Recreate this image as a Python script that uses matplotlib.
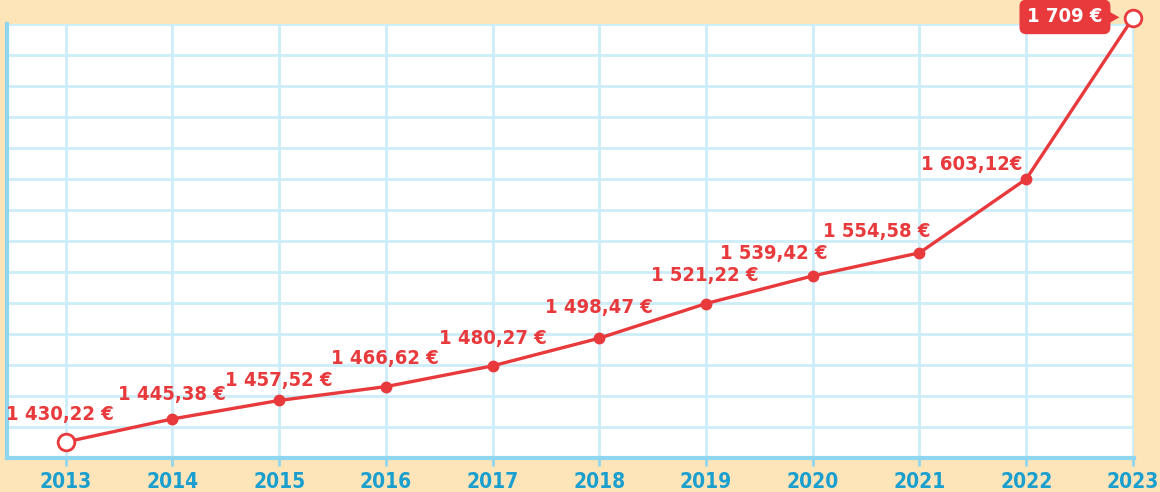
import numpy as np
import matplotlib.pyplot as plt

# Données
annees = [2013, 2014, 2015, 2016, 2017, 2018, 2019, 2020, 2021, 2022, 2023]
valeurs = [1430.22, 1445.38, 1457.52, 1466.62, 1480.27, 1498.47, 1521.22,
           1539.42, 1554.58, 1603.12, 1709]
etiquettes = ["1 430,22 €", "1 445,38 €", "1 457,52 €", "1 466,62 €", "1 480,27 €",
              "1 498,47 €", "1 521,22 €", "1 539,42 €", "1 554,58 €", "1 603,12€"]

rouge = "#e83a3c"
bleu = "#1a9fcf"
fond = "#fde5b9"

plt.rcParams['font.family'] = ['DejaVu Sans']
plt.rcParams['font.stretch'] = 'condensed'

fig = plt.figure(figsize=(11.6, 4.92), dpi=100, facecolor=fond)
ax = fig.add_axes([0.006, 0.0691, 0.9716, 0.8821])
ax.set_facecolor("white")

ymin, ymax = 1419.7, 1705.0
ax.set_xlim(2012.45, 2023.01)
ax.set_ylim(ymin, ymax)

# Grille
ax.set_xticks(annees)
ax.set_yticks(np.linspace(ymin, ymax, 15))
ax.grid(True, color="#cdedf9", linewidth=2)
ax.set_axisbelow(True)
ax.set_yticklabels([])
ax.tick_params(axis="y", length=0)
ax.tick_params(axis="x", colors="#8fd6f0", length=6, width=2, pad=4)
for lab in ax.get_xticklabels():
    lab.set_color(bleu)
    lab.set_fontsize(15)
    lab.set_fontweight("bold")

for s in ["top", "right"]:
    ax.spines[s].set_visible(False)
for s in ["left", "bottom"]:
    ax.spines[s].set_color("#8fd6f0")
    ax.spines[s].set_linewidth(3)

# Courbe
ax.plot(annees, valeurs, color=rouge, linewidth=2.4, zorder=3, clip_on=False)
ax.plot(annees[1:-1], valeurs[1:-1], "o", color=rouge, markersize=7.5, zorder=4)
ax.plot([annees[0], annees[-1]], [valeurs[0], valeurs[-1]], "o", markerfacecolor="white",
        markeredgecolor=rouge, markeredgewidth=2, markersize=12, zorder=5, clip_on=False)

# Étiquettes
decalages = [(-6, 27), (0, 24), (0, 20), (-1, 28), (0, 27), (0, 31), (-1, 28),
             (-39, 22), (-43, 21), (-54, 14)]
for x, y, txt, (dx, dy) in zip(annees, valeurs, etiquettes, decalages):
    ax.annotate(txt, (x, y), xytext=(dx, dy), textcoords="offset pixels",
                ha="center", va="center", color=rouge, fontsize=14.5, fontweight="bold")

# Bulle de la dernière valeur
ax.annotate("1 709 €", (annees[-1], valeurs[-1]), xytext=(-68, 1), textcoords="offset pixels",
            ha="center", va="center", color="white", fontsize=14.5, fontweight="bold",
            annotation_clip=False,
            bbox=dict(boxstyle="round,pad=0.35,rounding_size=0.3", fc=rouge, ec=rouge))
ax.annotate("▶", (annees[-1], valeurs[-1]), xytext=(-20, 1), textcoords="offset pixels",
            ha="center", va="center", color=rouge, fontsize=13, annotation_clip=False)

fig.savefig("out.png", dpi=100, facecolor=fond)
